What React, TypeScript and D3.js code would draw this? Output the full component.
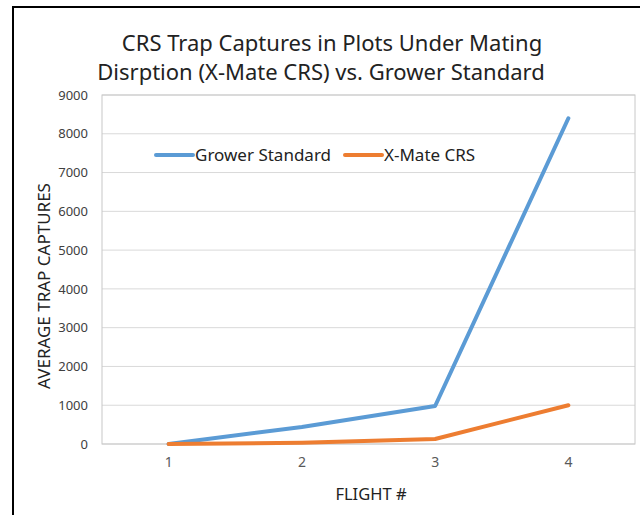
import React, { useEffect, useRef } from 'react';
import * as d3 from 'd3';

const flights = ['1', '2', '3', '4'];
const growerStandard = [0, 440, 980, 8400];
const xMateCRS = [0, 30, 130, 1000];
const yTicks = [0, 1000, 2000, 3000, 4000, 5000, 6000, 7000, 8000, 9000];

const seriesList = [
    { name: 'Grower Standard', values: growerStandard, color: '#5B9BD5' },
    { name: 'X-Mate CRS', values: xMateCRS, color: '#ED7D31' },
];

const FONT = '"Noto Sans", "Open Sans", sans-serif';

const App = () => {
    const svgRef = useRef<SVGSVGElement>(null);

    useEffect(() => {
        const width = 640;
        const height = 515;
        const svg = d3.select(svgRef.current);
        svg.selectAll('*').remove();
        svg.attr('width', width).attr('height', height);

        // Chart frame
        svg.append('rect')
            .attr('x', 0).attr('y', 0).attr('width', width).attr('height', height)
            .style('fill', 'white');
        svg.append('rect')
            .attr('x', 13).attr('y', 7).attr('width', 700).attr('height', 600)
            .style('fill', 'none').style('stroke', '#000').style('stroke-width', 2);

        const plot = { left: 102, right: 635, top: 95, bottom: 444 };

        const x = d3.scaleBand()
            .domain(flights)
            .range([plot.left, plot.right]);

        const y = d3.scaleLinear()
            .domain([0, 9000])
            .range([plot.bottom, plot.top]);

        // Title
        const title = svg.append('text')
            .attr('text-anchor', 'middle')
            .style('font-family', FONT)
            .style('font-size', '22px')
            .style('fill', '#222');
        title.append('tspan').attr('x', 332).attr('y', 51).text('CRS Trap Captures in Plots Under Mating');
        title.append('tspan').attr('x', 321).attr('y', 80).text('Disrption (X-Mate CRS) vs. Grower Standard');

        // Grid lines
        svg.append('g')
            .selectAll('line')
            .data(yTicks)
            .enter()
            .append('line')
            .attr('x1', plot.left)
            .attr('x2', plot.right)
            .attr('y1', d => y(d))
            .attr('y2', d => y(d))
            .style('stroke', '#d9d9d9')
            .style('stroke-width', 1);

        // Plot border
        svg.append('rect')
            .attr('x', plot.left).attr('y', plot.top)
            .attr('width', plot.right - plot.left).attr('height', plot.bottom - plot.top)
            .style('fill', 'none').style('stroke', '#c8c8c8').style('stroke-width', 1);

        // Y axis
        const yAxis = svg.append('g')
            .attr('transform', `translate(${plot.left}, 0)`)
            .call(d3.axisLeft(y).tickValues(yTicks).tickSize(0).tickPadding(14).tickFormat(d3.format('d')));
        yAxis.select('.domain').remove();
        yAxis.selectAll('text')
            .style('font-family', FONT)
            .style('font-size', '13px')
            .style('fill', '#404040');

        // X axis
        const xAxis = svg.append('g')
            .attr('transform', `translate(0, ${plot.bottom})`)
            .call(d3.axisBottom(x).tickSize(0).tickPadding(13));
        xAxis.select('.domain').remove();
        xAxis.selectAll('text')
            .style('font-family', FONT)
            .style('font-size', '14px')
            .style('fill', '#595959');

        // Axis titles
        svg.append('text')
            .attr('transform', 'rotate(-90)')
            .attr('x', -286)
            .attr('y', 50)
            .attr('text-anchor', 'middle')
            .style('font-family', FONT)
            .style('font-size', '17px')
            .style('fill', '#222')
            .text('AVERAGE TRAP CAPTURES');

        svg.append('text')
            .attr('x', 371)
            .attr('y', 500)
            .attr('text-anchor', 'middle')
            .style('font-family', FONT)
            .style('font-size', '16.5px')
            .style('fill', '#222')
            .text('FLIGHT #');

        // Lines
        const line = d3.line<number>()
            .x((d, i) => (x(flights[i]) as number) + x.bandwidth() / 2)
            .y(d => y(d));

        seriesList.forEach(s => {
            svg.append('path')
                .datum(s.values)
                .attr('d', line)
                .style('fill', 'none')
                .style('stroke', s.color)
                .style('stroke-width', 4)
                .style('stroke-linecap', 'round')
                .style('stroke-linejoin', 'round');
        });

        // Legend
        const legendPos = [156, 345];
        seriesList.forEach((s, i) => {
            const lx = legendPos[i];
            svg.append('line')
                .attr('x1', lx).attr('x2', lx + 37)
                .attr('y1', 155).attr('y2', 155)
                .style('stroke', s.color)
                .style('stroke-width', 4)
                .style('stroke-linecap', 'round');
            svg.append('text')
                .attr('x', lx + 39)
                .attr('y', 161)
                .style('font-family', FONT)
                .style('font-size', '17px')
                .style('fill', '#222')
                .text(s.name);
        });
    }, []);

    return (
        <div style={{ position: 'absolute', left: 0, top: 0 }}>
            <svg ref={svgRef} style={{ display: 'block' }}></svg>
        </div>
    );
};

export default App;
